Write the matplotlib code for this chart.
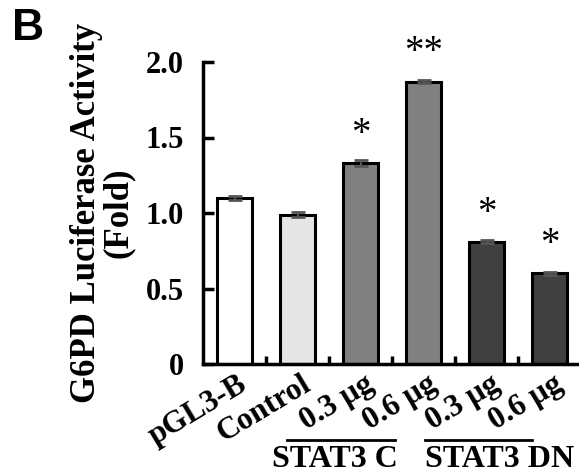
import numpy as np
import matplotlib
matplotlib.use('Agg')
import matplotlib.pyplot as plt
import matplotlib.transforms as mtransforms

plt.rcParams['font.family'] = 'Liberation Serif'
plt.rcParams['font.weight'] = 'bold'

labels = ['pGL3-B', 'Control', '0.3 μg', '0.6 μg', '0.3 μg', '0.6 μg']
values = [1.10, 0.99, 1.33, 1.87, 0.81, 0.60]
errors = [0.015, 0.015, 0.02, 0.01, 0.01, 0.008]
stars = ['', '', '*', '**', '*', '*']
colors = ['white', '#e6e6e6', '#808080', '#808080', '#404040', '#404040']

fig = plt.figure(figsize=(5.79, 4.76), dpi=100)
ax = fig.add_axes([203/579, 112/476, 378/579, 302/476])

x = np.arange(len(values))
ax.bar(x, values, width=0.54, color=colors, edgecolor='black', linewidth=2.2, zorder=2)
ax.errorbar(x, values, yerr=errors, fmt='none', ecolor='#555555', elinewidth=1.5,
            capsize=5, capthick=2, zorder=3)

for xi, v, s in zip(x, values, stars):
    if s:
        ax.text(xi, v + 0.19, s, ha='center', va='center', fontsize=28, fontweight='normal')

ax.set_xlim(-0.5, 5.5)
ax.set_ylim(0, 2.0)
ax.set_yticks([0, 0.5, 1.0, 1.5, 2.0])
ax.set_yticklabels(['0', '0.5', '1.0', '1.5', '2.0'])
ax.set_xticks(x[:-1] + 0.5)
ax.set_xticklabels([])
ax.tick_params(axis='y', direction='in', length=8, width=2.5, labelsize=22, pad=14)
ax.tick_params(axis='x', direction='in', length=6, width=2.5)
for sp in ['top', 'right']:
    ax.spines[sp].set_visible(False)
for sp in ['left', 'bottom']:
    ax.spines[sp].set_linewidth(2.5)

# rotated category labels
for xi, lab in zip(x, labels):
    ax.text(xi + 0.05, -0.02, lab, transform=ax.get_xaxis_transform(), rotation=31,
            rotation_mode='anchor', ha='right', va='top', fontsize=22.5)

ax.set_ylabel('G6PD Luciferase Activity\n(Fold)', fontsize=25, fontweight='bold',
              linespacing=0.95)
ax.yaxis.set_label_coords(-0.18, 0.5)

# group lines and labels
trans = mtransforms.blended_transform_factory(ax.transData, ax.transAxes)
ax.plot([0.83, 2.54], [-0.252, -0.252], color='black', lw=2, transform=trans, clip_on=False)
ax.plot([3.02, 4.73], [-0.252, -0.252], color='black', lw=2, transform=trans, clip_on=False)
ax.text(1.6, -0.315, 'STAT3 C', transform=trans, ha='center', va='center', fontsize=23)
ax.text(3.03, -0.315, 'STAT3 DN', transform=trans, ha='left', va='center', fontsize=23)

fig.text(12/579, 1 - 29/476, 'B', fontfamily='Liberation Sans', fontweight='bold',
         fontsize=32, ha='left', va='center')

fig.savefig('out.png', dpi=100)
